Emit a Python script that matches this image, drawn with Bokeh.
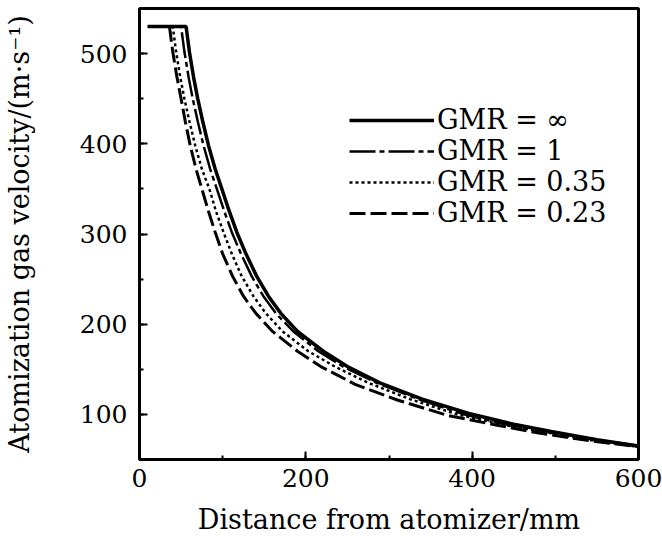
from bokeh.plotting import figure
from bokeh.models import Legend, LegendItem, SingleIntervalTicker, Range1d
from bokeh.embed import file_html
from bokeh.resources import INLINE

# Data (distance in mm, velocity in m/s)
x_inf = [10, 56, 60, 65, 70, 76, 83, 91, 99, 108, 117, 128, 141, 155, 170, 190, 221, 250, 289, 340, 396, 450, 495, 550, 600]
v_inf = [530, 530, 502, 474, 450, 425, 398, 372, 350, 325, 302, 278, 253, 231, 212, 192, 170, 153, 135, 117, 101, 89, 81, 72, 65]

x_1 = [10, 50, 54, 59, 64, 70, 77, 85, 93, 102, 111, 122, 135, 149, 164, 185, 215, 245, 285, 335, 390, 445, 495, 550, 600]
v_1 = [530, 530, 502, 474, 450, 425, 398, 372, 350, 325, 302, 278, 253, 231, 212, 192, 170, 153, 135, 117, 100, 88, 80, 72, 65]

x_035 = [10, 40, 44, 49, 54, 60, 67, 75, 84, 92, 101, 111, 123, 137, 152, 172, 203, 235, 275, 325, 382, 440, 490, 545, 600]
v_035 = [530, 530, 502, 474, 450, 425, 398, 372, 350, 325, 302, 278, 253, 231, 212, 192, 170, 153, 135, 117, 100, 88, 80, 71, 64]

x_023 = [10, 36, 40, 45, 50, 55, 61, 68, 75, 83, 91, 100, 112, 125, 140, 160, 190, 218, 260, 310, 370, 430, 482, 540, 600]
v_023 = [530, 530, 502, 474, 450, 425, 398, 372, 350, 325, 302, 278, 253, 231, 212, 192, 170, 153, 133, 116, 99, 88, 79, 71, 64]

labels = ["GMR = ∞", "GMR = 1", "GMR = 0.35", "GMR = 0.23"]

FONT = "DejaVu Serif"

p = figure(width=662, height=537, output_backend="svg", toolbar_location=None,
           x_range=Range1d(0, 600), y_range=Range1d(50, 550),
           min_border_left=135, min_border_right=24, min_border_top=8, min_border_bottom=77)
p.title.visible = False

p.xgrid.visible = False
p.ygrid.visible = False
p.background_fill_color = "white"
p.border_fill_color = "white"
p.outline_line_color = "black"
p.outline_line_width = 3

p.xaxis.ticker = SingleIntervalTicker(interval=200, num_minor_ticks=2)
p.yaxis.ticker = SingleIntervalTicker(interval=100, num_minor_ticks=2)

for ax in (p.xaxis[0], p.yaxis[0]):
    ax.axis_line_width = 3
    ax.axis_line_color = "black"
    ax.major_tick_in = 8
    ax.major_tick_out = 0
    ax.minor_tick_in = 4
    ax.minor_tick_out = 0
    ax.major_tick_line_width = 2
    ax.minor_tick_line_width = 2
    ax.major_label_text_font = FONT
    ax.major_label_text_font_size = "25px"
    ax.major_label_text_color = "black"
    ax.axis_label_text_font = FONT
    ax.axis_label_text_font_style = "normal"
    ax.axis_label_text_color = "black"

p.xaxis.axis_label = "Distance from atomizer/mm"
p.xaxis.axis_label_text_font_size = "27px"
p.xaxis.major_label_standoff = 9
p.xaxis.axis_label_standoff = 14

p.yaxis.axis_label = "Atomization gas velocity/(m·s⁻¹)"
p.yaxis.axis_label_text_font_size = "27px"
p.yaxis.major_label_standoff = 12
p.yaxis.axis_label_standoff = 42

r1 = p.line(x_inf, v_inf, line_color="black", line_width=3.5)
r2 = p.line(x_1, v_1, line_color="black", line_width=2.5, line_dash="26 4 5 4")
r3 = p.line(x_035, v_035, line_color="black", line_width=2.5, line_dash="3 3")
r4 = p.line(x_023, v_023, line_color="black", line_width=3, line_dash="16 5")

legend = Legend(items=[LegendItem(label=labels[0], renderers=[r1]),
                       LegendItem(label=labels[1], renderers=[r2]),
                       LegendItem(label=labels[2], renderers=[r3]),
                       LegendItem(label=labels[3], renderers=[r4])],
                location=(210, 231))
legend.border_line_color = None
legend.background_fill_alpha = 0
legend.padding = 0
legend.margin = 0
legend.spacing = 0
legend.glyph_width = 85
legend.glyph_height = 26
legend.label_height = 26
legend.label_standoff = 3
legend.label_text_font = FONT
legend.label_text_font_size = "27px"
legend.label_text_color = "black"
p.add_layout(legend)

open("out.html", "w").write(file_html(p, INLINE))
